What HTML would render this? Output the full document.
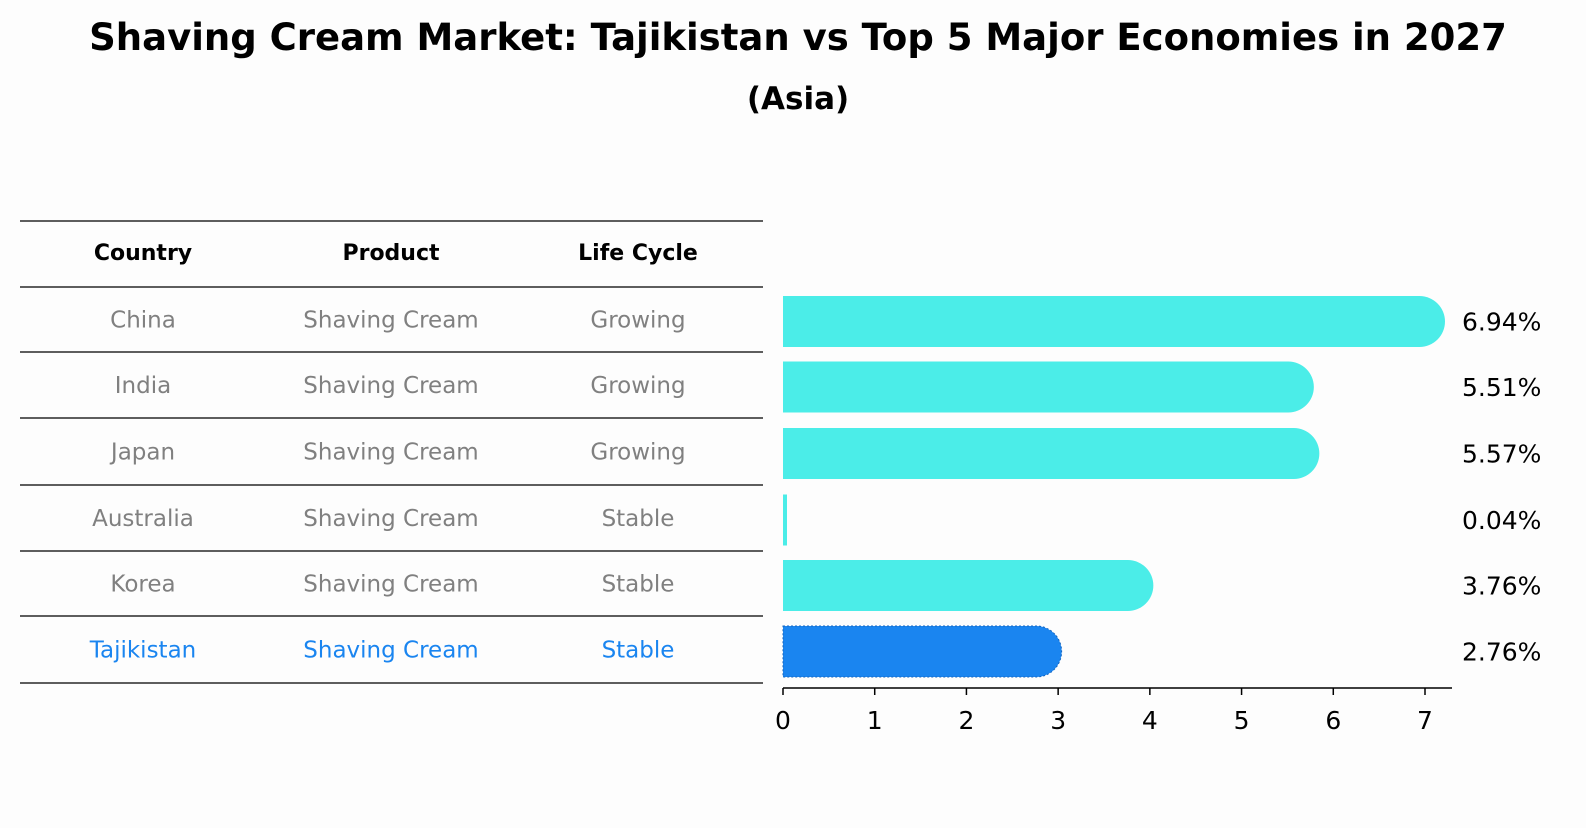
<!DOCTYPE html>
<html><head><meta charset="utf-8"><style>
body{margin:0;background:#fdfdfd;width:1586px;height:823px;overflow:hidden;font-family:"Liberation Sans","DejaVu Sans",sans-serif}
</style></head><body>
<svg width="1586" height="823" style="font-family:'DejaVu Sans','Liberation Sans',sans-serif">
<text x="798" y="50" text-anchor="middle" font-size="37" font-weight="bold">Shaving Cream Market: Tajikistan vs Top 5 Major Economies in 2027</text>
<text x="798" y="109" text-anchor="middle" font-size="31" font-weight="bold">(Asia)</text>
<g id="table"></g>
<g id="bars"></g>
</svg>
<script>
const countries=["China","India","Japan","Australia","Korea","Tajikistan"];
const products=["Shaving Cream","Shaving Cream","Shaving Cream","Shaving Cream","Shaving Cream","Shaving Cream"];
const lifeCycles=["Growing","Growing","Growing","Stable","Stable","Stable"];
const values=[6.94,5.51,5.57,0.04,3.76,2.76];
const valueLabels=["6.94%","5.51%","5.57%","0.04%","3.76%","2.76%"];
const xTicks=[0,1,2,3,4,5,6,7];
const NS="http://www.w3.org/2000/svg";
function mk(tag,attrs,parent){const e=document.createElementNS(NS,tag);for(const k in attrs)e.setAttribute(k,attrs[k]);parent.appendChild(e);return e;}
const tbl=document.getElementById('table');
const lineYs=[221,287,352,418,485,551,616,683];
lineYs.forEach(y=>{const l=mk('line',{x1:20,x2:763,y1:y,y2:y,stroke:'#000','stroke-width':1.2},tbl);

});
const colX=[143,391,638];
["Country","Product","Life Cycle"].forEach((h,i)=>{const t=mk('text',{x:colX[i],y:260,'text-anchor':'middle','font-size':22,'font-weight':'bold'},tbl);t.textContent=h;

});
const rowY=i=>(lineYs[i+1]+lineYs[i+2])/2;
countries.forEach((c,i)=>{const col=i===countries.length-1?'#1a85f0':'#808080';
[c,products[i],lifeCycles[i]].forEach((v,j)=>{const t=mk('text',{x:colX[j],y:rowY(i)+8,'text-anchor':'middle','font-size':23,fill:col},tbl);t.textContent=v;

});});
const bars=document.getElementById('bars');
const x0=783,scale=(1425-783)/7;
const xs=v=>x0+v*scale;
const barH=51;
values.forEach((v,i)=>{const cy=rowY(i)+2;const last=i===values.length-1;const col=last?'#1a85f0':'#4bede8';
const w=xs(v)-x0;let el;
if(v>0.3){const r=barH/2;
el=mk('path',{d:`M${x0},${cy-r} H${x0+w} A${r},${r} 0 0 1 ${x0+w},${cy+r} H${x0} Z`,fill:col},bars);
if(last){el.setAttribute('stroke','#1565c0');el.setAttribute('stroke-dasharray','2,2');el.setAttribute('stroke-width','1');}
}else{el=mk('rect',{x:x0,y:cy-barH/2,width:Math.max(w,4),height:barH,fill:col},bars);}


const t=mk('text',{x:1462,y:cy+9,'font-size':25},bars);t.textContent=valueLabels[i];

});
const ax=mk('line',{x1:x0,x2:1452,y1:688,y2:688,stroke:'#000','stroke-width':1.5},bars);


xTicks.forEach(v=>{const tk=mk('line',{x1:xs(v),x2:xs(v),y1:688,y2:695,stroke:'#000','stroke-width':1.5},bars);


const t=mk('text',{x:xs(v),y:729,'text-anchor':'middle','font-size':25},bars);t.textContent=v;

});
</script>
</body></html>
